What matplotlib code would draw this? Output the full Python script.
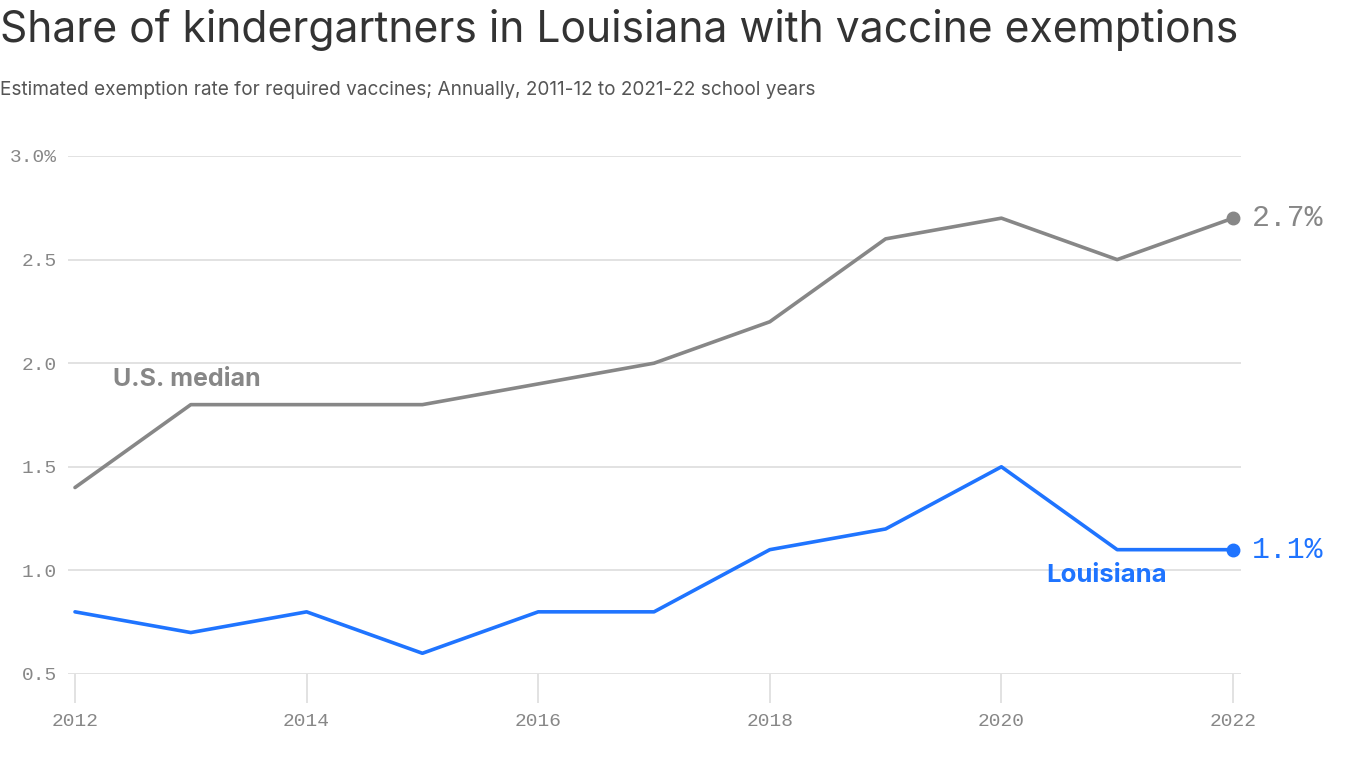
import matplotlib
matplotlib.use("Agg")
import matplotlib.pyplot as plt

years = [2012, 2013, 2014, 2015, 2016, 2017, 2018, 2019, 2020, 2021, 2022]
us_median = [1.4, 1.8, 1.8, 1.8, 1.9, 2.0, 2.2, 2.6, 2.7, 2.5, 2.7]
louisiana = [0.8, 0.7, 0.8, 0.6, 0.8, 0.8, 1.1, 1.2, 1.5, 1.1, 1.1]
y_ticks = [0.5, 1.0, 1.5, 2.0, 2.5, 3.0]
y_tick_labels = ["0.5", "1.0", "1.5", "2.0", "2.5", "3.0%"]
x_ticks = [2012, 2014, 2016, 2018, 2020, 2022]

GRAY = "#878787"
BLUE = "#1f74ff"
MONO = "Liberation Mono"
SANS = "Inter"

fig = plt.figure(figsize=(13.66, 7.68), dpi=100)
ax = fig.add_axes([68/1366, 1 - 674/768, (1241-68)/1366, (674-156)/768])

ax.set_xlim(2012 - 7/115.8, 2022 + 8/115.8)
ax.set_ylim(0.5, 3.0)

for y in y_ticks:
    ax.axhline(y, color="#dddddd", lw=1.2, zorder=0)

ax.plot(years, us_median, color=GRAY, lw=2.6, zorder=3, solid_capstyle="round")
ax.plot(years, louisiana, color=BLUE, lw=2.6, zorder=3, solid_capstyle="round")
ax.plot([years[-1]], [us_median[-1]], "o", color=GRAY, ms=9, zorder=4)
ax.plot([years[-1]], [louisiana[-1]], "o", color=BLUE, ms=9, zorder=4)

for s in ax.spines.values():
    s.set_visible(False)

ax.set_yticks(y_ticks)
ax.set_yticklabels(y_tick_labels, fontfamily=MONO, fontsize=14, color=GRAY)
ax.tick_params(axis="y", length=0, pad=8)
ax.set_xticks(x_ticks)
ax.set_xticklabels([str(x) for x in x_ticks], fontfamily=MONO, fontsize=14, color=GRAY)
ax.tick_params(axis="x", length=21, width=1.2, color="#dddddd", pad=7)

ax.text(years[-1] + 0.16, us_median[-1], f"{us_median[-1]}%", color=GRAY,
        fontfamily=MONO, fontsize=21.5, va="center", ha="left", clip_on=False)
ax.text(years[-1] + 0.16, louisiana[-1], f"{louisiana[-1]}%", color=BLUE,
        fontfamily=MONO, fontsize=21.5, va="center", ha="left", clip_on=False)

ax.text(2012.33, 1.92, "U.S. median", color=GRAY, fontfamily=SANS, fontsize=18,
        fontweight="bold", va="center", ha="left")
ax.text(2020.91, 0.975, "Louisiana", color=BLUE, fontfamily=SANS, fontsize=18.5,
        fontweight="bold", va="center", ha="center")

fig.text(0.0, 1 - 30/768, "Share of kindergartners in Louisiana with vaccine exemptions",
         fontfamily=SANS, fontsize=30.7, color="#333333", va="center", ha="left")
fig.text(0.0, 1 - 90/768, "Estimated exemption rate for required vaccines; Annually, 2011-12 to 2021-22 school years",
         fontfamily=SANS, fontsize=13.7, color="#555555", va="center", ha="left")

fig.savefig("out.png", dpi=100)
